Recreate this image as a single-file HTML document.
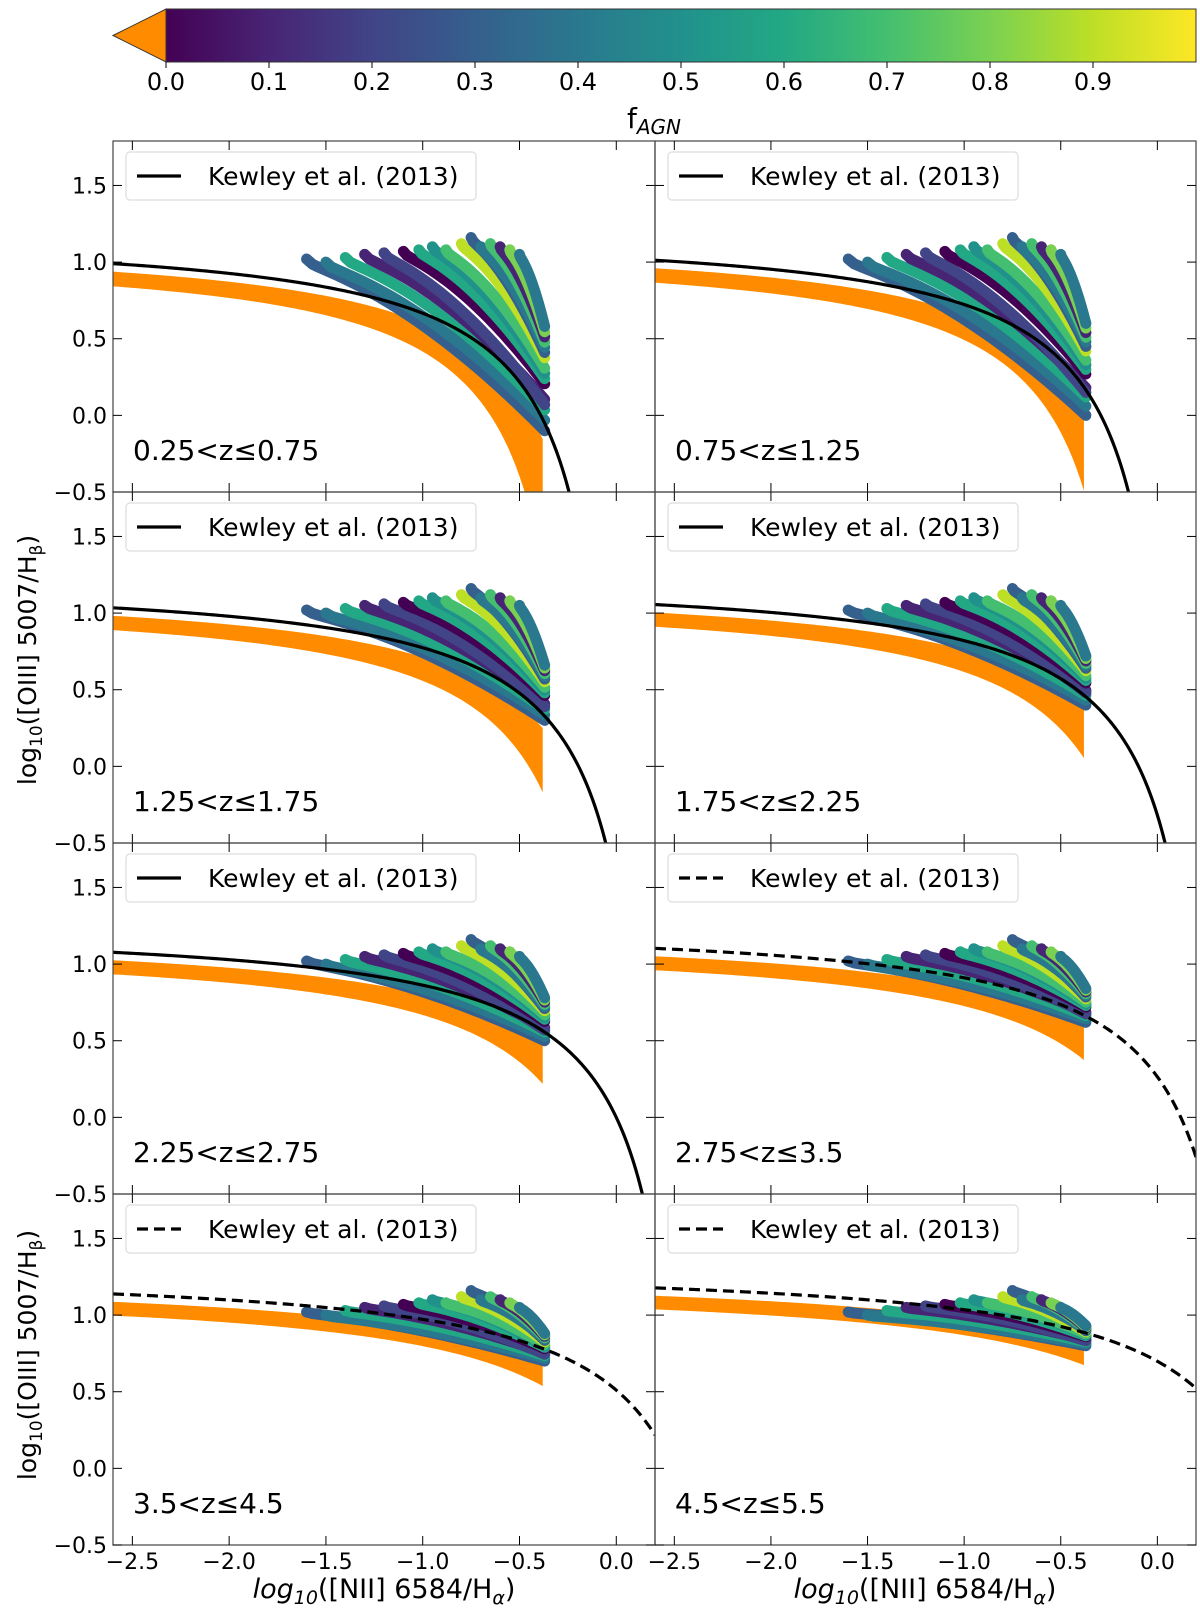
<!DOCTYPE html>
<html><head><meta charset="utf-8"><style>
html,body{margin:0;padding:0;background:#fff}
svg{display:block}
text{font-family:"DejaVu Sans","Liberation Sans",sans-serif;fill:#000}
</style></head><body>
<svg id="chart" width="1200" height="1615" viewBox="0 0 1200 1615" xmlns="http://www.w3.org/2000/svg">
<defs>
<linearGradient id="vir" x1="0" x2="1" y1="0" y2="0">
<stop offset="0" stop-color="#440154"/><stop offset="0.1" stop-color="#482475"/><stop offset="0.2" stop-color="#414487"/><stop offset="0.3" stop-color="#355f8d"/><stop offset="0.4" stop-color="#2a788e"/><stop offset="0.5" stop-color="#21918c"/><stop offset="0.6" stop-color="#22a884"/><stop offset="0.7" stop-color="#44bf70"/><stop offset="0.8" stop-color="#7ad151"/><stop offset="0.9" stop-color="#bddf26"/><stop offset="1" stop-color="#fde725"/>
</linearGradient>
</defs>
</svg>
<script>
// ---- data ----
const panelZ = [0.5, 1.0, 1.5, 2.0, 2.5, 3.125, 4.0, 5.0];
const panelLabels = ["0.25<z\u22640.75","0.75<z\u22641.25","1.25<z\u22641.75","1.75<z\u22642.25","2.25<z\u22642.75","2.75<z\u22643.5","3.5<z\u22644.5","4.5<z\u22645.5"];
const panelDashed = [false,false,false,false,false,true,true,true];
const fanBottom = [-0.1, 0.0, 0.3, 0.4, 0.5, 0.62, 0.7, 0.8];
const fanTop = [0.58, 0.6, 0.66, 0.72, 0.78, 0.84, 0.88, 0.93];
const trackX0 = [-1.6,-1.5,-1.4,-1.3,-1.2,-1.1,-1.02,-0.95,-0.88,-0.8,-0.75,-0.7,-0.65,-0.6,-0.55,-0.5];
const trackY0 = [1.02,1.0,1.03,1.05,1.06,1.07,1.08,1.1,1.08,1.12,1.16,1.1,1.12,1.1,1.08,1.05];
const trackF = [0.35,0.45,0.65,0.1,0.25,0.05,0.6,0.55,0.75,0.9,0.3,0.45,0.7,0.15,0.8,0.4];
const trackEnd = [0.0,0.1,0.2,0.3,0.25,0.45,0.5,0.55,0.6,0.7,0.75,0.8,0.85,0.9,0.95,1.0];
const xTicks = [-2.5,-2.0,-1.5,-1.0,-0.5,0.0];
const yTicks = [-0.5,0.0,0.5,1.0,1.5];
const cbTicks = [0.0,0.1,0.2,0.3,0.4,0.5,0.6,0.7,0.8,0.9];

const NS="http://www.w3.org/2000/svg";
const svg=document.getElementById('chart');
function mk(tag,attrs,parent){const e=document.createElementNS(NS,tag);for(const k in attrs)e.setAttribute(k,attrs[k]);(parent||svg).appendChild(e);return e;}
const vir=["#440154","#482475","#414487","#355f8d","#2a788e","#21918c","#22a884","#44bf70","#7ad151","#bddf26","#fde725"];
function vcol(f){const i=Math.min(9,Math.floor(f*10));return vir[i];}
const XMIN=-2.6,XMAX=0.2,YMIN=-0.5,YMAX=1.79;
function kew(x,z){return 0.61/(x-0.02-0.1833*z)+1.2+0.03*z;}

// ---- colorbar ----
const cb=mk('g',{});


const cbL=166,cbR=1196,cbT=9,cbB=62;
function cbx(v){return cbL+(cbR-cbL)*v;}
const tri=mk('polygon',{points:`113,35.5 ${cbL},${cbT} ${cbL},${cbB}`,fill:'#ff8c00',stroke:'#333','stroke-width':1},cb);


const cbr=mk('rect',{x:cbL,y:cbT,width:cbR-cbL,height:cbB-cbT,fill:'url(#vir)',stroke:'#333','stroke-width':1},cb);


cbTicks.forEach(v=>{
  mk('line',{x1:cbx(v),x2:cbx(v),y1:cbB,y2:cbB+6,stroke:'#000','stroke-width':1},cb);
  const t=mk('text',{x:cbx(v),y:90,'text-anchor':'middle','font-size':24},cb);
  t.textContent=v.toFixed(1);
  
  
});
const cbt=mk('text',{x:654,y:128,'text-anchor':'middle','font-size':28},cb);
cbt.innerHTML='f<tspan font-size="20" dy="6" font-style="italic">AGN</tspan>';



// ---- panels ----
panelZ.forEach((z,i)=>{
  const col=i%2,row=Math.floor(i/2);
  const L=col?655:113,R=col?1196:655,T=141+row*351,B=T+351;
  const sx=x=>L+(x-XMIN)/(XMAX-XMIN)*(R-L);
  const sy=y=>B-(y-YMIN)/(YMAX-YMIN)*(B-T);
  const g=mk('g',{});
  
  
  const cid='clip'+i;
  const cp=mk('clipPath',{id:cid},g);mk('rect',{x:L,y:T,width:R-L,height:B-T},cp);
  const dg=mk('g',{'clip-path':`url(#${cid})`},g);
  // orange band (fAGN=0)
  let up=[],lo=[];
  for(let x=XMIN;x<=-0.37+1e-9;x+=0.02){
    up.push(sx(x)+','+sy(kew(x+0.03,z)-0.05));
    lo.push(sx(x)+','+sy(Math.max(YMIN-0.2,kew(x+0.2,z)-0.13)));
  }
  const ob=mk('polygon',{points:up.concat(lo.reverse()).join(' '),fill:'#ff8c00'},dg);
  
  
  // tracks
  const xe=-0.37;
  trackX0.forEach((x0,k)=>{
    const y0=trackY0[k];
    const ye=fanBottom[i]+(fanTop[i]-fanBottom[i])*trackEnd[k];
    let pts=[];
    for(let s=0;s<=40;s++){
      const t=s/40;const x=x0+(xe-x0)*t;
      const y=y0+(ye-y0)*(0.18*Math.sqrt(t)+0.82*Math.pow(t,1.6));
      pts.push(sx(x)+','+sy(y));
    }
    const p=mk('polyline',{points:pts.join(' '),fill:'none',stroke:vcol(trackF[k]),'stroke-width':11,'stroke-linecap':'round','stroke-linejoin':'round'},dg);
    
    
  });
  // kewley curve
  let kp=[];
  for(let x=XMIN;x<=XMAX+1e-9;x+=0.01){const y=kew(x,z);if(y<YMIN-0.3)break;kp.push(sx(x)+','+sy(y));}
  const kl=mk('polyline',{points:kp.join(' '),fill:'none',stroke:'#000','stroke-width':3.2},dg);
  if(panelDashed[i])kl.setAttribute('stroke-dasharray','11,6');
  
  
  // frame
  mk('rect',{x:L,y:T,width:R-L,height:B-T,fill:'none',stroke:'#444','stroke-width':1.2},g);
  // ticks
  xTicks.forEach(v=>{
    mk('line',{x1:sx(v),x2:sx(v),y1:T,y2:T+9,stroke:'#000','stroke-width':1},g);
    mk('line',{x1:sx(v),x2:sx(v),y1:B,y2:B-9,stroke:'#000','stroke-width':1},g);
    if(row===3){const t=mk('text',{x:sx(v),y:B+24,'text-anchor':'middle','font-size':22},g);t.textContent=(v<0?'\u2212':'')+Math.abs(v).toFixed(1);
      
      }
  });
  yTicks.forEach(v=>{
    mk('line',{x1:L,x2:L+9,y1:sy(v),y2:sy(v),stroke:'#000','stroke-width':1},g);
    mk('line',{x1:R,x2:R-9,y1:sy(v),y2:sy(v),stroke:'#000','stroke-width':1},g);
    if(col===0){const t=mk('text',{x:L-6,y:sy(v)+8,'text-anchor':'end','font-size':22},g);t.textContent=(v<0?'\u2212':'')+Math.abs(v).toFixed(1);
      
      }
  });
  // legend
  const lg=mk('g',{},g);
  
  
  mk('rect',{x:L+13,y:T+11,width:350,height:48,rx:4,fill:'#fff',stroke:'#ddd','stroke-width':1.2},lg);
  const ls=mk('line',{x1:L+24,x2:L+68,y1:T+35,y2:T+35,stroke:'#000','stroke-width':3.2},lg);
  if(panelDashed[i])ls.setAttribute('stroke-dasharray','11,6');
  const lt=mk('text',{x:L+95,y:T+44,'font-size':25},lg);lt.textContent='Kewley et al. (2013)';
  
  
  const zt=mk('text',{x:L+20,y:T+319,'font-size':28},g);zt.textContent=panelLabels[i];
  
  
});
// axis titles
[660,1355].forEach(cy=>{
  const t=mk('text',{x:0,y:0,'text-anchor':'middle','font-size':25,transform:`translate(36,${cy}) rotate(-90)`});
  t.innerHTML='log<tspan font-size="17" dy="6">10</tspan><tspan dy="-6">([OIII] 5007/H</tspan><tspan font-size="17" dy="6">\u03b2</tspan><tspan dy="-6">)</tspan>';
  
  
});
[384,925].forEach(cx=>{
  const t=mk('text',{x:cx,y:1598,'text-anchor':'middle','font-size':27});
  t.innerHTML='<tspan font-style="italic">log</tspan><tspan font-size="19" dy="6" font-style="italic">10</tspan><tspan dy="-6">([NII] 6584/H</tspan><tspan font-size="19" dy="6" font-style="italic">\u03b1</tspan><tspan dy="-6">)</tspan>';
  
  
});
</script>
</body></html>
